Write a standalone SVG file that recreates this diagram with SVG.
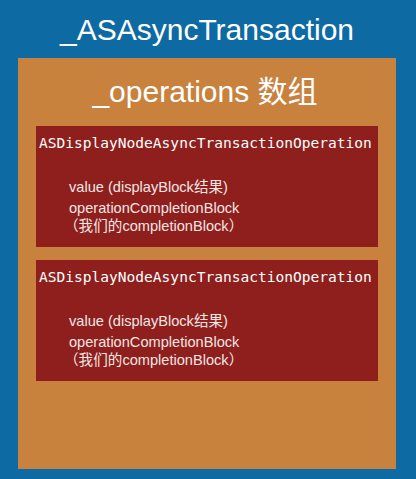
<svg xmlns="http://www.w3.org/2000/svg" width="416" height="479" viewBox="0 0 416 479">
<style>
.t{fill:#ffffff;font-family:"Liberation Sans","Noto Sans CJK SC",sans-serif}
.title{font-size:30px;text-anchor:middle}
.mono{fill:#ffffff;font-family:"DejaVu Sans Mono","Liberation Mono",monospace;font-size:14.55px}
.body{font-size:14.6px;fill:#f3e6e4}
.op{fill:#8e1f1d}
</style>
<rect id="background" x="0" y="0" width="416" height="479" fill="#0e6aa2"/>
<g id="transaction">
<text class="t title" x="207" y="40">_ASAsyncTransaction</text>
</g>
<g id="operations">
<rect x="18" y="58" width="378" height="411" fill="#c8823e"/>
<text class="t title" x="205" y="102">_operations 数组</text>
</g>
<g id="op1">
<rect class="op" x="36" y="126" width="342" height="121"/>
<text class="mono" x="39" y="148">ASDisplayNodeAsyncTransactionOperation</text>
<text class="t body" x="69" y="191.5">value (displayBlock结果)</text>
<text class="t body" x="69" y="212.5">operationCompletionBlock</text>
<text class="t body" x="64" y="231">（我们的completionBlock）</text>
</g>
<g id="op2">
<rect class="op" x="36" y="260" width="342" height="121"/>
<text class="mono" x="39" y="282">ASDisplayNodeAsyncTransactionOperation</text>
<text class="t body" x="69" y="326">value (displayBlock结果)</text>
<text class="t body" x="69" y="346.5">operationCompletionBlock</text>
<text class="t body" x="64" y="365">（我们的completionBlock）</text>
</g>
<g id="connectors"/>
</svg>
